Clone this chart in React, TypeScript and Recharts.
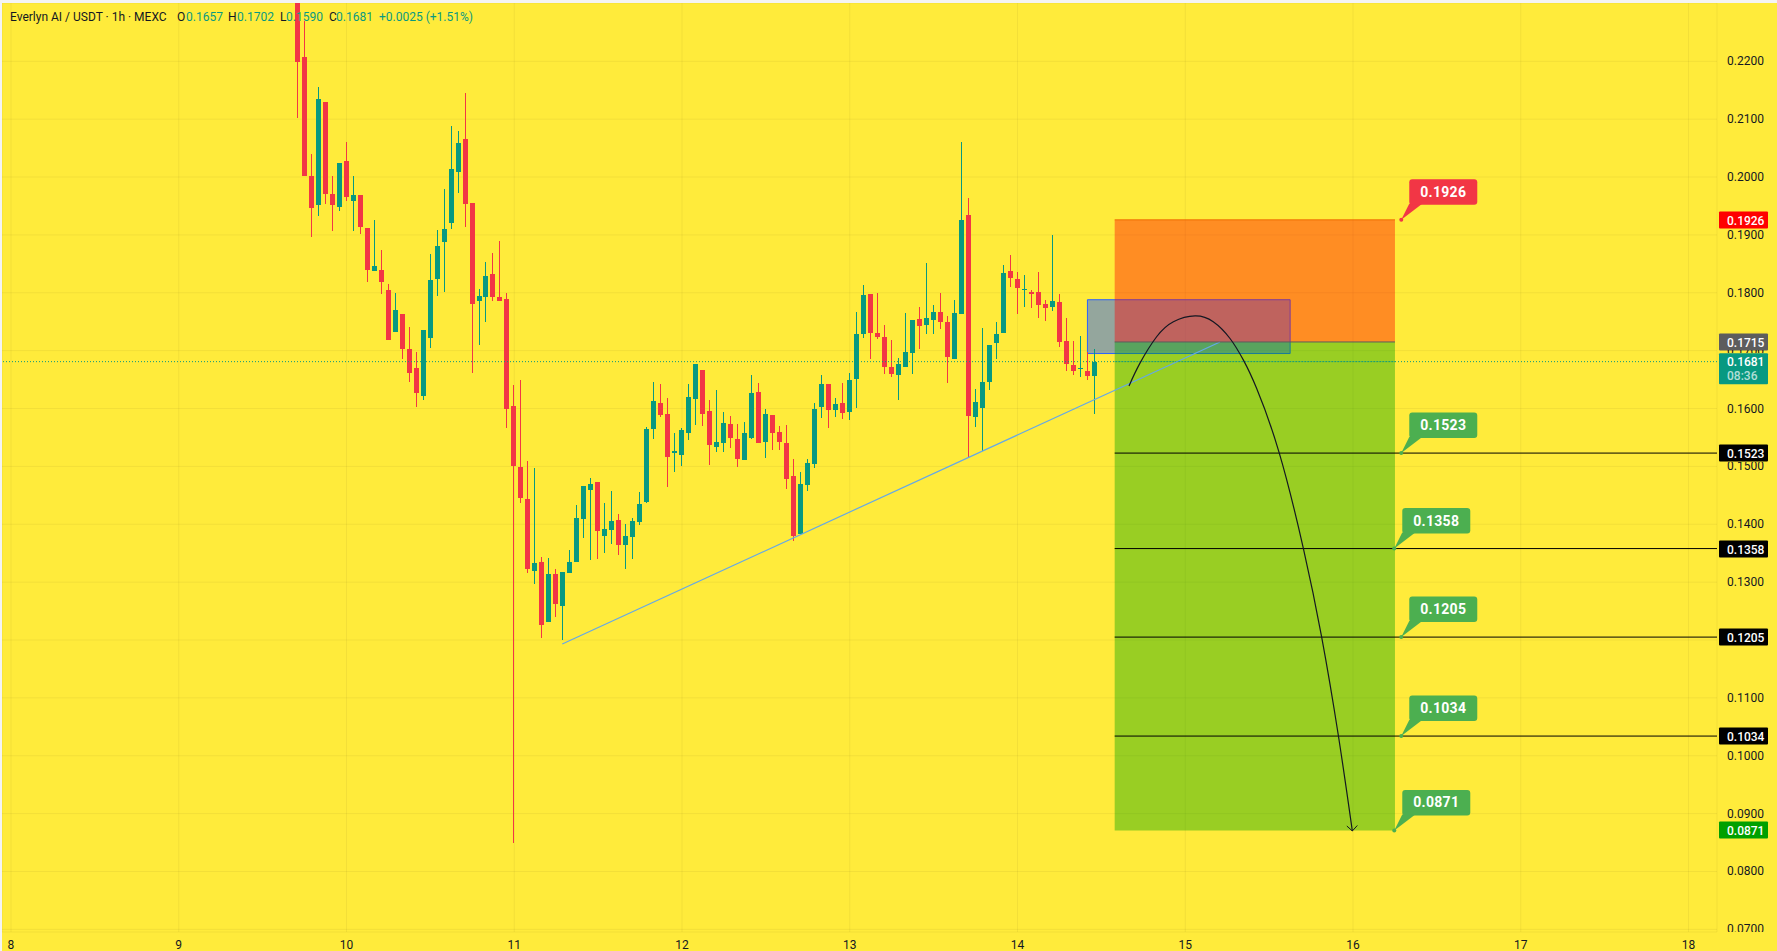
import React from 'react';
import { ComposedChart, Bar, Line, XAxis, YAxis, CartesianGrid, ReferenceArea, ReferenceLine, ReferenceDot } from 'recharts';

const firstCandleHour = 41;
const opens = [
  0.2380, 0.2207, 0.2002, 0.1951, 0.2130, 0.1971, 0.1949, 0.2027, 0.1959, 0.1969,
  0.1912, 0.1837, 0.1839, 0.1805, 0.1733, 0.1763, 0.1703, 0.1670, 0.1622, 0.1722,
  0.1823, 0.1887, 0.1921, 0.2009, 0.2066, 0.1955, 0.1785, 0.1793, 0.1833, 0.1793,
  0.1789, 0.1604, 0.1499, 0.1444, 0.1319, 0.1335, 0.1231, 0.1314, 0.1259, 0.1316,
  0.1335, 0.1409, 0.1459, 0.1473, 0.1380, 0.1390, 0.1407, 0.1364, 0.1378, 0.1404,
  0.1439, 0.1565, 0.1610, 0.1591, 0.1523, 0.1520, 0.1558, 0.1617, 0.1667, 0.1596,
  0.1534, 0.1540, 0.1573, 0.1547, 0.1511, 0.1549, 0.1629, 0.1542, 0.1589, 0.1559,
  0.1540, 0.1483, 0.1383, 0.1468, 0.1504, 0.1603, 0.1642, 0.1598, 0.1610, 0.1594,
  0.1651, 0.1729, 0.1798, 0.1731, 0.1724, 0.1672, 0.1658, 0.1672, 0.1696, 0.1755,
  0.1744, 0.1753, 0.1767, 0.1750, 0.1686, 0.1763, 0.1934, 0.1585, 0.1601, 0.1646,
  0.1713, 0.1731, 0.1838, 0.1824, 0.1805, 0.1801, 0.1801, 0.1781, 0.1775, 0.1784,
  0.1717, 0.1675, 0.1668, 0.1665, 0.1657,
];
const highs = [
  0.2400, 0.2269, 0.2040, 0.2155, 0.2130, 0.2002, 0.2024, 0.2060, 0.2002, 0.1969,
  0.1912, 0.1926, 0.1874, 0.1815, 0.1800, 0.1763, 0.1741, 0.1698, 0.1736, 0.1867,
  0.1909, 0.1979, 0.2088, 0.2080, 0.2145, 0.1955, 0.1807, 0.1853, 0.1869, 0.1890,
  0.1800, 0.1641, 0.1649, 0.1509, 0.1497, 0.1343, 0.1342, 0.1323, 0.1318, 0.1356,
  0.1433, 0.1466, 0.1480, 0.1473, 0.1437, 0.1458, 0.1418, 0.1400, 0.1411, 0.1456,
  0.1568, 0.1646, 0.1642, 0.1618, 0.1558, 0.1566, 0.1642, 0.1677, 0.1667, 0.1615,
  0.1632, 0.1594, 0.1587, 0.1573, 0.1577, 0.1658, 0.1644, 0.1599, 0.1589, 0.1570,
  0.1572, 0.1513, 0.1490, 0.1513, 0.1610, 0.1658, 0.1642, 0.1618, 0.1644, 0.1661,
  0.1767, 0.1813, 0.1798, 0.1800, 0.1744, 0.1718, 0.1687, 0.1765, 0.1753, 0.1775,
  0.1851, 0.1779, 0.1800, 0.1760, 0.1788, 0.2061, 0.1964, 0.1634, 0.1739, 0.1710,
  0.1750, 0.1848, 0.1865, 0.1836, 0.1831, 0.1805, 0.1836, 0.1788, 0.1900, 0.1798,
  0.1756, 0.1717, 0.1725, 0.1698, 0.1702,
];
const lows = [
  0.2102, 0.2001, 0.1897, 0.1933, 0.1954, 0.1907, 0.1942, 0.1959, 0.1907, 0.1902,
  0.1819, 0.1837, 0.1798, 0.1719, 0.1733, 0.1686, 0.1646, 0.1603, 0.1615, 0.1705,
  0.1795, 0.1802, 0.1911, 0.1973, 0.1914, 0.1662, 0.1710, 0.1750, 0.1785, 0.1786,
  0.1567, 0.0850, 0.1436, 0.1316, 0.1297, 0.1204, 0.1231, 0.1240, 0.1200, 0.1316,
  0.1335, 0.1376, 0.1338, 0.1340, 0.1350, 0.1366, 0.1347, 0.1323, 0.1340, 0.1399,
  0.1437, 0.1547, 0.1585, 0.1465, 0.1490, 0.1501, 0.1546, 0.1572, 0.1570, 0.1503,
  0.1525, 0.1525, 0.1532, 0.1499, 0.1511, 0.1547, 0.1540, 0.1515, 0.1528, 0.1528,
  0.1461, 0.1371, 0.1383, 0.1458, 0.1497, 0.1584, 0.1566, 0.1585, 0.1582, 0.1580,
  0.1601, 0.1722, 0.1686, 0.1720, 0.1660, 0.1654, 0.1615, 0.1672, 0.1660, 0.1703,
  0.1729, 0.1729, 0.1737, 0.1644, 0.1686, 0.1763, 0.1515, 0.1568, 0.1527, 0.1632,
  0.1686, 0.1731, 0.1810, 0.1763, 0.1775, 0.1774, 0.1756, 0.1751, 0.1769, 0.1706,
  0.1665, 0.1658, 0.1654, 0.1649, 0.1590,
];
const closes = [
  0.2199, 0.2001, 0.1947, 0.2135, 0.1970, 0.1951, 0.2024, 0.1966, 0.1969, 0.1913,
  0.1840, 0.1846, 0.1819, 0.1719, 0.1770, 0.1702, 0.1662, 0.1626, 0.1736, 0.1822,
  0.1881, 0.1910, 0.2014, 0.2059, 0.1954, 0.1781, 0.1795, 0.1829, 0.1792, 0.1786,
  0.1600, 0.1500, 0.1446, 0.1323, 0.1333, 0.1226, 0.1314, 0.1262, 0.1318, 0.1335,
  0.1411, 0.1466, 0.1470, 0.1388, 0.1392, 0.1406, 0.1364, 0.1380, 0.1406, 0.1435,
  0.1565, 0.1613, 0.1589, 0.1516, 0.1527, 0.1563, 0.1620, 0.1677, 0.1591, 0.1537,
  0.1542, 0.1575, 0.1549, 0.1513, 0.1558, 0.1627, 0.1540, 0.1591, 0.1558, 0.1542,
  0.1478, 0.1380, 0.1470, 0.1506, 0.1599, 0.1642, 0.1598, 0.1608, 0.1592, 0.1649,
  0.1729, 0.1796, 0.1731, 0.1724, 0.1672, 0.1660, 0.1677, 0.1698, 0.1753, 0.1743,
  0.1756, 0.1767, 0.1750, 0.1689, 0.1765, 0.1926, 0.1587, 0.1611, 0.1646, 0.1710,
  0.1729, 0.1834, 0.1826, 0.1808, 0.1807, 0.1798, 0.1779, 0.1774, 0.1786, 0.1715,
  0.1677, 0.1665, 0.1670, 0.1656, 0.1681,
];

const dayTicks = [0, 24, 48, 72, 96, 120, 144, 168, 192, 216, 240];
const dayLabels = ['8', '9', '10', '11', '12', '13', '14', '15', '16', '17', '18'];
const priceTicks = [0.07, 0.08, 0.09, 0.1, 0.11, 0.12, 0.13, 0.14, 0.15, 0.16, 0.17, 0.18, 0.19, 0.2, 0.21, 0.22];

// hand drawn forecast arc
const arcHours = [159.95, 161.5, 163.9, 166.3, 169.4, 172, 174.4, 176.3, 178.2, 181.45, 184.9, 187.5, 189.9, 191.9];
const arcPrices = [0.1639, 0.1678, 0.1724, 0.175, 0.176, 0.175, 0.1721, 0.1684, 0.1635, 0.1523, 0.1358, 0.1206, 0.1035, 0.087];

const targetPrices = [0.1523, 0.1358, 0.1205, 0.1034];
const stopPrice = 0.1926;
const entryPrice = 0.1715;
const lastTargetPrice = 0.0871;
const lastPrice = 0.1681;
const zoneStart = 157.9;
const zoneEnd = 198;

const calloutPrices = [0.1926, 0.1523, 0.1358, 0.1205, 0.1034, 0.0871];
const calloutHours = [198.9, 198.9, 197.9, 198.9, 198.9, 197.9];
const calloutColors = ['#f23645', '#4caf50', '#4caf50', '#4caf50', '#4caf50', '#4caf50'];

const tagPrices = [0.1926, 0.1715, 0.1523, 0.1358, 0.1205, 0.1034, 0.0871];
const tagColors = ['#ff0000', '#5d5d5d', '#000000', '#000000', '#000000', '#000000', '#00a000'];

const UP = '#089981';
const DOWN = '#f23645';
const FONT = 'Roboto, sans-serif';
const hourMin = -1.285;
const hourMax = 244.07;

const candles = opens.map((open, i) => ({
  hour: firstCandleHour + i,
  open,
  high: highs[i],
  low: lows[i],
  close: closes[i],
  range: [lows[i], highs[i]],
}));

const arc = arcHours.map((hour, i) => ({ hour, price: arcPrices[i] }));

const CandleShape = (props: any) => {
  const { x, y, width, height, payload } = props;
  const perPrice = height / (payload.high - payload.low);
  const yOf = (p: number) => y + (payload.high - p) * perPrice;
  const mid = Math.floor(x + width / 2 - 0.3);
  const top = yOf(Math.max(payload.open, payload.close));
  const bottom = yOf(Math.min(payload.open, payload.close));
  const color = payload.close >= payload.open ? UP : DOWN;
  return (
    <g shapeRendering="crispEdges">
      <rect x={mid} y={y} width={1} height={height} fill={color} />
      <rect x={mid - 2} y={top} width={5} height={Math.max(bottom - top, 1)} fill={color} />
    </g>
  );
};

const ArcDot = (props: any) => {
  const { cx, cy, index } = props;
  if (index !== arc.length - 1) return <g key={index} />;
  return <path key={index} d={`M${cx - 5.5} ${cy - 5} L${cx} ${cy} L${cx + 5} ${cy - 5.5}`} stroke="#131722" strokeWidth={1} fill="none" />;
};

const Callout = (color: string, text: string) => (props: any) => {
  const { cx, cy } = props;
  const left = cx + 8;
  const top = cy - 40.5;
  const bottom = top + 25.5;
  return (
    <g>
      <path d={`M${cx} ${cy} L${left} ${bottom - 1} L${left + 13} ${bottom - 1} Z`} fill={color} />
      <rect x={left} y={top} width={68} height={25.5} rx={3} fill={color} />
      <circle cx={cx} cy={cy} r={2} fill={color} />
      <text x={left + 34} y={top + 17.5} textAnchor="middle" fill="#fff" fontFamily={FONT} fontSize={14} fontWeight={700} letterSpacing={0.3}>
        {text}
      </text>
    </g>
  );
};

const PriceTag = (color: string, text: string) => (props: any) => {
  const { cx, cy } = props;
  return (
    <g>
      <rect x={cx + 2} y={Math.round(cy) - 8.5} width={49} height={17} rx={1} fill={color} />
      <text x={cx + 10} y={Math.round(cy) + 4.5} fill="#fff" fontFamily={FONT} fontSize={12} fontWeight={500}>
        {text}
      </text>
    </g>
  );
};

const LastPriceTag = (props: any) => {
  const { cx, cy } = props;
  return (
    <g>
      <rect x={cx + 2} y={cy - 8.5} width={49} height={31} rx={1} fill={UP} />
      <text x={cx + 10} y={cy + 4.5} fill="#fff" fontFamily={FONT} fontSize={12} fontWeight={500}>0.1681</text>
      <text x={cx + 10} y={cy + 18} fill="rgba(255,255,255,0.7)" fontFamily={FONT} fontSize={12} fontWeight={500}>08:36</text>
    </g>
  );
};

// axis text is painted above the tags, so the rows a tag covers get clipped away
const visibleRows: Record<string, number[]> = {
  '0.17': [347, 3],
  '0.15': [459, 20],
  '0.12': [0, 0],
};

// price scale text, cut at the bottom of the pane like the 0.0700 label
const PriceTick = (props: any) => {
  const { x, y, payload } = props;
  const id = `price-clip-${payload.value}`;
  const rows = visibleRows[String(payload.value)] || [0, 929];
  return (
    <g>
      <clipPath id={id}>
        <rect x={x - 5} y={rows[0]} width={70} height={rows[1]} />
      </clipPath>
      <text x={x} y={y + 4} clipPath={`url(#${id})`} fontSize={12} fontFamily={FONT} fill="#131722">
        {payload.value.toFixed(4)}
      </text>
    </g>
  );
};

const Header = () => {
  const num = { color: UP, position: 'absolute' as const, top: 9 };
  const letter = { color: '#131722', position: 'absolute' as const, top: 9 };
  return (
    <div style={{ position: 'absolute', left: 0, top: 0, fontFamily: FONT, fontSize: 12, lineHeight: '16px', whiteSpace: 'nowrap' }}>
      <span style={{ ...letter, left: 10 }}>Everlyn AI / USDT · 1h · MEXC</span>
      <span style={{ ...letter, left: 177 }}>O</span>
      <span style={{ ...num, left: 186 }}>0.1657</span>
      <span style={{ ...letter, left: 228 }}>H</span>
      <span style={{ ...num, left: 237 }}>0.1702</span>
      <span style={{ ...letter, left: 280 }}>L</span>
      <span style={{ ...num, left: 286 }}>0.1590</span>
      <span style={{ ...letter, left: 329 }}>C</span>
      <span style={{ ...num, left: 336 }}>0.1681</span>
      <span style={{ ...num, left: 379 }}>+0.0025 (+1.51%)</span>
    </div>
  );
};

export default function App() {
  return (
    <div style={{ position: 'absolute', left: 0, top: 0, width: 1777, height: 951, background: '#f4f4f4', overflow: 'hidden' }}>
      <div style={{ position: 'absolute', left: 2, top: 3, width: 1775, height: 948, background: '#ffeb3b' }}>
        <ComposedChart width={1775} height={948} data={candles} margin={{ top: 0, right: 0, bottom: 0, left: 0 }} barCategoryGap={0}>
          <CartesianGrid stroke="rgba(0,0,0,0.05)" />
          <XAxis
            dataKey="hour"
            type="number"
            domain={[hourMin, hourMax]}
            ticks={dayTicks}
            tickFormatter={(h: number) => dayLabels[dayTicks.indexOf(h)]}
            allowDataOverflow
            axisLine={false}
            tickLine={false}
            height={19}
            tick={{ fontSize: 12, fontFamily: FONT, fill: '#131722' }}
          />
          <YAxis
            orientation="right"
            type="number"
            domain={[0.069542, 0.230074]}
            ticks={priceTicks}
            allowDataOverflow
            axisLine={false}
            tickLine={false}
            tickSize={0}
            width={60}
            tickMargin={10}
            tick={PriceTick}
          />
          <ReferenceLine y={lastPrice} stroke={UP} strokeDasharray="1 2" />
          <Bar dataKey="range" barSize={5} shape={<CandleShape />} isAnimationActive={false} />
          <ReferenceArea x1={154} x2={183} y1={0.1695} y2={0.1788} fill="#2962ff" fillOpacity={0.5} stroke="#2962ff" />
          <ReferenceLine
            segment={[{ x: 78.87, y: 0.1193 }, { x: 172.96, y: 0.1715 }]}
            stroke="#64a8e8"
            strokeWidth={1.2}
          />
          <ReferenceArea x1={zoneStart} x2={zoneEnd} y1={entryPrice} y2={stopPrice} fill="#ff0000" fillOpacity={0.4} stroke="none" />
          <ReferenceArea x1={zoneStart} x2={zoneEnd} y1={lastTargetPrice} y2={entryPrice} fill="#00a200" fillOpacity={0.4} stroke="none" />
          <ReferenceLine segment={[{ x: zoneStart, y: lastPrice }, { x: zoneEnd, y: lastPrice }]} stroke={UP} strokeDasharray="1 2" />
          <ReferenceLine segment={[{ x: zoneStart, y: stopPrice }, { x: zoneEnd, y: stopPrice }]} stroke="#ef6c00" />
          <ReferenceLine segment={[{ x: zoneStart, y: entryPrice }, { x: zoneEnd, y: entryPrice }]} stroke="#5d5d5d" />
          {targetPrices.map((p) => (
            <ReferenceLine key={p} segment={[{ x: zoneStart, y: p }, { x: hourMax, y: p }]} stroke="#000" />
          ))}
          <Line data={arc} dataKey="price" type="natural" stroke="#131722" strokeWidth={1.2} dot={<ArcDot />} activeDot={false} isAnimationActive={false} />
          {calloutPrices.map((p, i) => (
            <ReferenceDot key={p} x={calloutHours[i]} y={p} shape={Callout(calloutColors[i], p.toFixed(4))} />
          ))}
          <ReferenceDot x={hourMax} y={lastPrice} shape={LastPriceTag} />
          {tagPrices.map((p, i) => (
            <ReferenceDot key={p} x={hourMax} y={p} shape={PriceTag(tagColors[i], p.toFixed(4))} />
          ))}
        </ComposedChart>
      </div>
      <Header />
    </div>
  );
}
